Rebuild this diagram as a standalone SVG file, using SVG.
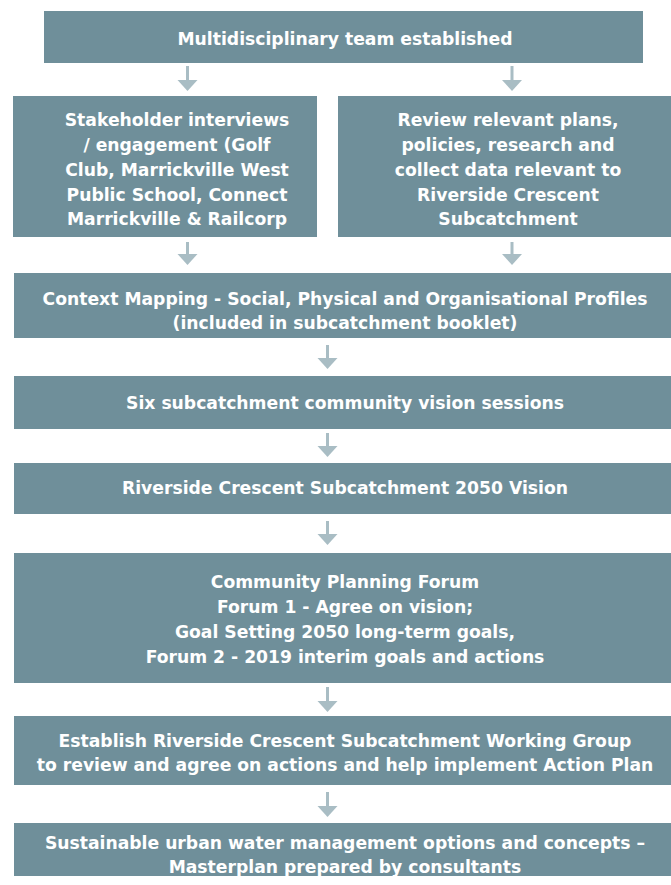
<svg xmlns="http://www.w3.org/2000/svg" width="671" height="885" viewBox="0 0 671 885">
  <style>
    .box { fill: #6f8f9a; }
    .lbl { font-family: "DejaVu Sans", "Liberation Sans", Arial, sans-serif; font-weight: bold; font-size: 17.2px; fill: #ffffff; text-anchor: middle; }
    .stem { stroke: #a9bdc4; stroke-width: 3; fill: none; }
    .head { fill: #a9bdc4; }
  </style>
  <rect width="671" height="885" fill="#ffffff"/>

  <!-- connectors: short downward arrows between steps -->
  <g id="connectors">
    <line class="stem" x1="187.5" y1="66" x2="187.5" y2="81"/><polygon class="head" points="177.5,80 197.5,80 187.5,91"/>
    <line class="stem" x1="512" y1="66" x2="512" y2="81"/><polygon class="head" points="502,80 522,80 512,91"/>
    <line class="stem" x1="187.5" y1="242" x2="187.5" y2="255"/><polygon class="head" points="177.5,254 197.5,254 187.5,265"/>
    <line class="stem" x1="512" y1="242" x2="512" y2="255"/><polygon class="head" points="502,254 522,254 512,265"/>
    <line class="stem" x1="327.5" y1="345" x2="327.5" y2="359"/><polygon class="head" points="317.5,358 337.5,358 327.5,369"/>
    <line class="stem" x1="327.5" y1="433" x2="327.5" y2="447"/><polygon class="head" points="317.5,446 337.5,446 327.5,457"/>
    <line class="stem" x1="327.5" y1="521" x2="327.5" y2="535"/><polygon class="head" points="317.5,534 337.5,534 327.5,545"/>
    <line class="stem" x1="327.5" y1="687" x2="327.5" y2="702"/><polygon class="head" points="317.5,701 337.5,701 327.5,712"/>
    <line class="stem" x1="327.5" y1="792" x2="327.5" y2="807"/><polygon class="head" points="317.5,806 337.5,806 327.5,817"/>
  </g>

  <g id="team">
    <rect class="box" x="44" y="11" width="599" height="52"/>
    <text class="lbl" x="345" y="45">Multidisciplinary team established</text>
  </g>

  <g id="stakeholders">
    <rect class="box" x="13" y="96" width="304" height="141"/>
    <text class="lbl" x="177" y="126">Stakeholder interviews</text>
    <text class="lbl" x="177" y="151">/ engagement (Golf</text>
    <text class="lbl" x="177" y="176">Club, Marrickville West</text>
    <text class="lbl" x="177" y="201">Public School, Connect</text>
    <text class="lbl" x="177" y="225">Marrickville &amp; Railcorp</text>
  </g>

  <g id="review">
    <rect class="box" x="338" y="96" width="333" height="141"/>
    <text class="lbl" x="508" y="126">Review relevant plans,</text>
    <text class="lbl" x="508" y="151">policies, research and</text>
    <text class="lbl" x="508" y="176">collect data relevant to</text>
    <text class="lbl" x="508" y="201">Riverside Crescent</text>
    <text class="lbl" x="508" y="225">Subcatchment</text>
  </g>

  <g id="context">
    <rect class="box" x="14" y="273" width="657" height="65"/>
    <text class="lbl" x="345" y="305">Context Mapping - Social, Physical and Organisational Profiles</text>
    <text class="lbl" x="345" y="329">(included in subcatchment booklet)</text>
  </g>

  <g id="sessions">
    <rect class="box" x="14" y="376" width="657" height="53"/>
    <text class="lbl" x="345" y="409">Six subcatchment community vision sessions</text>
  </g>

  <g id="vision">
    <rect class="box" x="14" y="463" width="657" height="51"/>
    <text class="lbl" x="345" y="494">Riverside Crescent Subcatchment 2050 Vision</text>
  </g>

  <g id="forum">
    <rect class="box" x="14" y="553" width="657" height="130"/>
    <text class="lbl" x="345" y="588">Community Planning Forum</text>
    <text class="lbl" x="345" y="613">Forum 1 - Agree on vision;</text>
    <text class="lbl" x="345" y="638">Goal Setting 2050 long-term goals,</text>
    <text class="lbl" x="345" y="663">Forum 2 - 2019 interim goals and actions</text>
  </g>

  <g id="working-group">
    <rect class="box" x="14" y="716" width="657" height="69"/>
    <text class="lbl" x="345" y="747">Establish Riverside Crescent Subcatchment Working Group</text>
    <text class="lbl" x="345" y="771">to review and agree on actions and help implement Action Plan</text>
  </g>

  <g id="masterplan">
    <rect class="box" x="14" y="823" width="657" height="53"/>
    <text class="lbl" x="345" y="849">Sustainable urban water management options and concepts –</text>
    <text class="lbl" x="345" y="873">Masterplan prepared by consultants</text>
  </g>
</svg>
